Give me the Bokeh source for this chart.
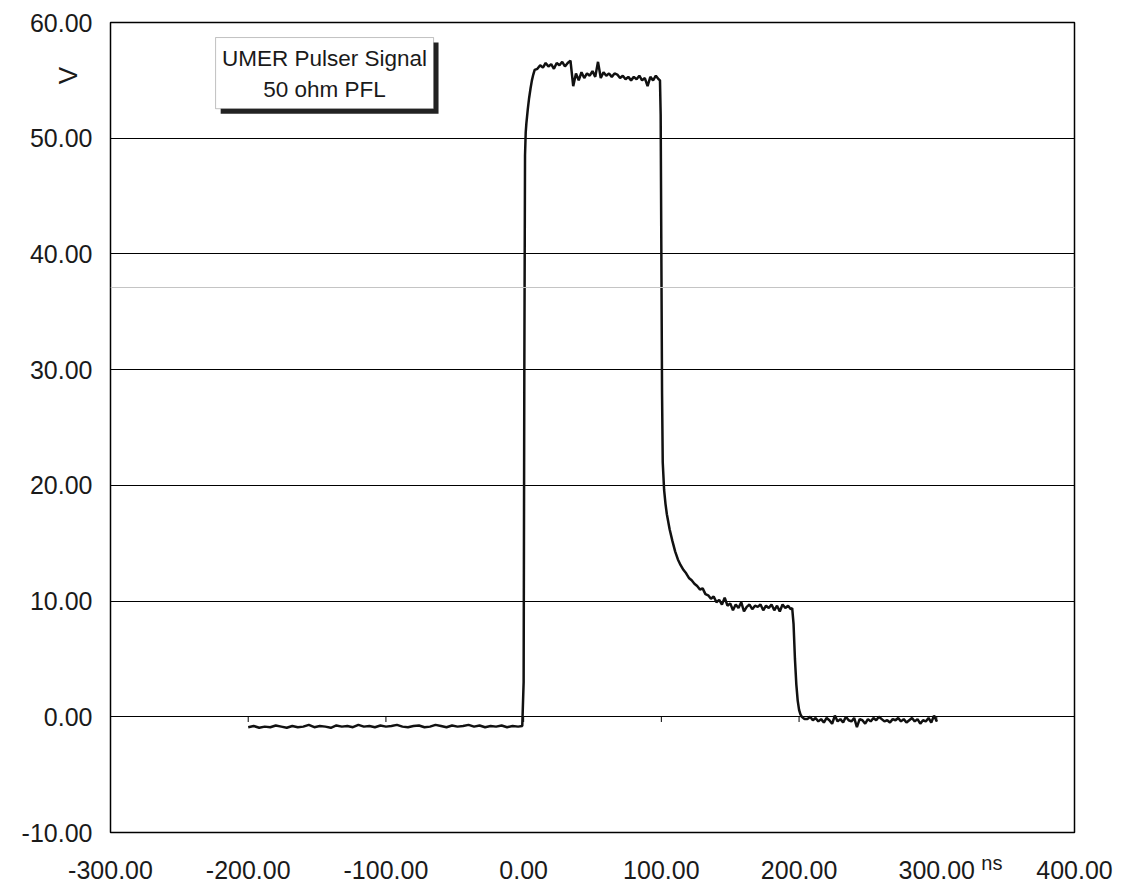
from math import pi
from bokeh.plotting import figure
from bokeh.models import FixedTicker, NumeralTickFormatter, Span, Label, Range1d, BoxAnnotation
from bokeh.embed import file_html
from bokeh.resources import INLINE

# ---- data ----
t_pre = [-200, -196, -192, -188, -184, -180, -176, -172, -168, -164, -160, -156, -152, -148, -144,
         -140, -136, -132, -128, -124, -120, -116, -112, -108, -104, -100, -96, -92, -88, -84,
         -80, -76, -72, -68, -64, -60, -56, -52, -48, -44, -40, -36, -32, -28, -24, -20, -16,
         -12, -8, -4]
v_pre = [-0.9, -0.8, -0.95, -0.85, -0.9, -0.75, -0.85, -0.95, -0.8, -0.9, -0.85, -0.7, -0.9, -0.8,
         -0.85, -0.95, -0.75, -0.85, -0.8, -0.9, -0.7, -0.85, -0.8, -0.9, -0.75, -0.85, -0.8, -0.7,
         -0.85, -0.9, -0.8, -0.75, -0.9, -0.85, -0.7, -0.8, -0.9, -0.75, -0.85, -0.8, -0.7, -0.85,
         -0.75, -0.9, -0.8, -0.85, -0.75, -0.9, -0.8, -0.85]

t_rise = [-1, 0, 0.5, 1, 1.5, 2, 3, 4, 5, 6, 7, 8]
v_rise = [-0.8, 3.0, 30.0, 48.5, 50.5, 51.3, 52.5, 53.5, 54.3, 55.0, 55.5, 55.9]

t_top = [10, 12, 14, 16, 18, 20, 22, 24, 26, 28, 30, 32, 34, 36, 38, 40, 42, 44, 46, 48, 50, 52,
         54, 56, 58, 60, 62, 64, 66, 68, 70, 72, 74, 76, 78, 80, 82, 84, 86, 88, 90, 92, 94, 96, 98]
v_top = [56.0, 56.3, 56.1, 56.5, 56.2, 56.4, 56.0, 56.5, 56.3, 56.6, 56.2, 56.5, 56.7, 54.5, 55.6,
         55.0, 55.7, 55.2, 55.6, 55.4, 55.8, 55.3, 56.6, 55.2, 55.7, 55.4, 55.6, 55.3, 55.6, 55.5,
         55.2, 55.4, 55.1, 55.3, 55.0, 55.3, 55.1, 55.4, 55.0, 55.2, 54.5, 55.3, 55.0, 55.4, 55.1]

t_fall = [99, 99.5, 100, 100.5, 101, 102, 103, 104, 106, 108, 110, 112]
v_fall = [55.0, 52.0, 40.0, 28.0, 22.0, 19.6, 18.4, 17.5, 16.2, 15.2, 14.3, 13.6]

t_tail = [114, 116, 118, 120, 122, 124, 126, 128, 130, 132, 134, 136, 138, 140, 142, 144, 146, 148,
          150, 152, 154, 156, 158, 160, 162, 164, 166, 168, 170, 172, 174, 176, 178, 180, 182, 184,
          186, 188, 190, 192, 194]
v_tail = [13.1, 12.7, 12.4, 12.0, 11.8, 11.5, 11.3, 11.0, 11.1, 10.6, 10.5, 10.2, 10.4, 9.9, 10.1,
          9.7, 10.3, 9.6, 9.8, 9.2, 9.7, 9.4, 9.9, 9.1, 9.5, 9.7, 9.3, 9.6, 9.5, 9.7, 9.2, 9.6, 9.4,
          9.7, 9.2, 9.6, 9.1, 9.7, 9.4, 9.6, 9.3]

t_drop = [195, 196, 197, 198, 199, 200, 201, 202, 204]
v_drop = [9.4, 8.0, 5.0, 2.8, 1.4, 0.6, 0.2, 0.0, -0.2]

t_post = [206, 208, 210, 212, 214, 216, 218, 220, 222, 224, 226, 228, 230, 232, 234, 236, 238, 240,
          242, 244, 246, 248, 250, 252, 254, 256, 258, 260, 262, 264, 266, 268, 270, 272, 274, 276,
          278, 280, 282, 284, 286, 288, 290, 292, 294, 296, 298, 300]
v_post = [-0.2, 0.0, -0.3, -0.1, -0.4, -0.2, -0.5, -0.1, -0.3, -0.6, 0.1, -0.4, -0.2, -0.5, 0.0,
          -0.3, -0.4, -0.1, -0.9, -0.2, -0.3, -0.6, -0.2, -0.4, -0.1, -0.3, 0.0, -0.2, -0.4, -0.3,
          -0.5, -0.2, -0.3, -0.1, -0.4, -0.2, -0.5, -0.3, -0.1, -0.4, -0.2, -0.6, -0.3, -0.4, -0.1,
          -0.5, 0.1, -0.4]

x_ticks = [-300, -200, -100, 0, 100, 200, 300, 400]
y_ticks = [-10, 0, 10, 20, 30, 40, 50, 60]
box_lines = ["UMER Pulser Signal", "50 ohm PFL"]
y_title = "V"
x_title = "ns"

time_ns = t_pre + t_rise + t_top + t_fall + t_tail + t_drop + t_post
volts = v_pre + v_rise + v_top + v_fall + v_tail + v_drop + v_post

FONT = "Liberation Sans"

p = figure(width=1120, height=890, x_range=Range1d(-300, 400), y_range=Range1d(-10, 60),
           output_backend="svg", toolbar_location=None,
           min_border_left=110, min_border_right=46, min_border_top=22, min_border_bottom=58)
p.background_fill_color = "white"
p.border_fill_color = "white"
p.outline_line_color = "black"
p.outline_line_width = 1.5

# axes
p.xaxis.ticker = FixedTicker(ticks=x_ticks)
p.yaxis.ticker = FixedTicker(ticks=y_ticks)
for ax in (p.xaxis, p.yaxis):
    ax.formatter = NumeralTickFormatter(format="0.00")
    ax.axis_line_color = None
    ax.major_tick_out = 0
    ax.major_tick_in = 0
    ax.minor_tick_line_color = None
    ax.major_label_text_font = FONT
    ax.major_label_text_color = "#1a1a1a"
p.xaxis.major_label_text_font_size = "25px"
p.yaxis.major_label_text_font_size = "25px"
p.xaxis.major_label_standoff = 28
p.yaxis.major_label_standoff = 18

p.xgrid.grid_line_color = None
p.ygrid.ticker = FixedTicker(ticks=y_ticks)
p.ygrid.grid_line_color = "black"
p.ygrid.grid_line_width = 1

# faint scan line
p.add_layout(Span(location=37.1, dimension="width", line_color="#c4c4c4", line_width=1))

# tick marks on the zero line
p.segment(x0=x_ticks, y0=[0] * len(x_ticks), x1=x_ticks, y1=[-0.45] * len(x_ticks),
          line_color="black", line_width=1)

# the signal
p.line(time_ns, volts, line_color="#111111", line_width=2.5)

# text box with shadow
p.add_layout(BoxAnnotation(left=-220.0, right=-61.8, top=58.27, bottom=52.12,
                           fill_color="#222222", fill_alpha=1, line_color=None))
p.add_layout(BoxAnnotation(left=-223.7, right=-65.4, top=58.7, bottom=52.55,
                           fill_color="white", fill_alpha=1, line_color="#333333", line_width=1))
p.add_layout(Label(x=-144.6, y=56.87, text=box_lines[0], text_align="center", text_baseline="middle",
                   text_font=FONT, text_font_size="22.5px", text_color="#1a1a1a"))
p.add_layout(Label(x=-144.6, y=54.19, text=box_lines[1], text_align="center", text_baseline="middle",
                   text_font=FONT, text_font_size="22.5px", text_color="#1a1a1a"))

# axis titles: kept in side panels that have spare room (so they are not clipped
# to the frame); their data coordinates still place them beside the axes
p.add_layout(Label(x=-330.5, y=55.42, text=y_title, angle=pi / 2,
                   text_align="center", text_baseline="middle",
                   text_font=FONT, text_font_size="26px", text_color="#1a1a1a"), "right")
p.add_layout(Label(x=340.0, y=-11.7, text=x_title,
                   text_align="center", text_baseline="top",
                   text_font=FONT, text_font_size="20px", text_color="#1a1a1a"), "above")

open("out.html", "w").write(file_html(p, INLINE))
